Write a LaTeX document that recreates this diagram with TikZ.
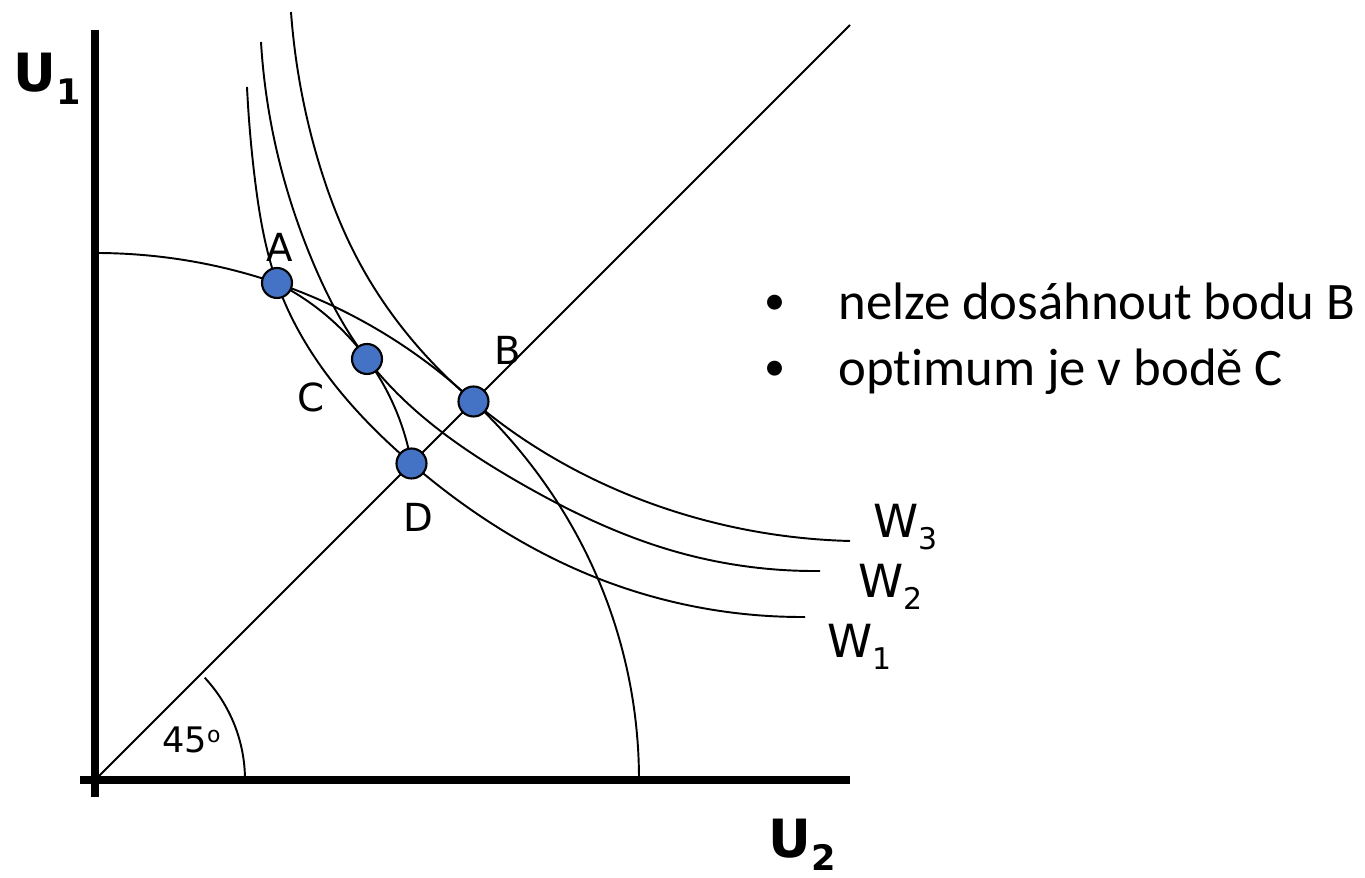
\documentclass[tikz,border=0pt]{standalone}
\usepackage{fontspec}
\setmainfont{DejaVu Sans}
\newfontfamily\notefont[Ligatures=NoCommon]{Carlito}
\usepackage{tkz-euclide}
\usetikzlibrary{hobby}
\definecolor{DotClr}{HTML}{4472C4}

\newcommand{\Wsub}[1]{\raisebox{-0.24cm}{\fontsize{17}{17}\selectfont #1}}
\newcommand{\Usub}[1]{\raisebox{-0.26cm}{\fontsize{20}{20}\selectfont #1}}

\begin{document}
\begin{tikzpicture}[
  curve/.style={line width=1.1pt,black},
  axis/.style={line width=4pt,black},
  dot/.style={circle,draw=black,line width=1.2pt,fill=DotClr,minimum size=0.6cm,inner sep=0pt},
  ptlabel/.style={inner sep=0pt,font=\fontsize{22}{26}\selectfont},
  wlabel/.style={inner sep=0pt,anchor=base west,font=\fontsize{26}{30}\selectfont},
  ulabel/.style={inner sep=0pt,anchor=base west,font=\fontsize{30}{34}\selectfont\bfseries},
  note/.style={inner sep=0pt,anchor=base west,font=\notefont\fontsize{30}{36}\selectfont},
  bullet/.style={inner sep=0pt,anchor=base west,font=\notefont\fontsize{24}{28}\selectfont}]
\useasboundingbox (-1.9,-1.96) rectangle (25.4,15.6);

\tkzDefPoints{0/0/O,3.64/9.94/A,7.57/7.57/B,5.44/8.42/C,6.33/6.33/D}

% axes
\draw[axis] (0,-0.34) -- (0,15);
\draw[axis] (-0.3,0) -- (15.1,0);
\node[ulabel] (u1) at (-1.64,13.76) {U\Usub{1}};
\node[ulabel] (u2) at (13.46,-1.56) {U\Usub{2}};

% 45 degree line
\draw[curve] (O) -- (15.1,15.1);
\draw[curve] (3,0) arc[start angle=0,end angle=43,radius=3];
\node[inner sep=0pt,anchor=base west,font=\fontsize{20}{24}\selectfont] (deg)
  at (1.34,0.54) {45\raisebox{0.2cm}{\fontsize{12.5}{14}\selectfont o}};

% frontiers
\draw[curve] (0,10.54) arc[start angle=90,end angle=0,x radius=10.88,y radius=10.54];
\draw[curve,use Hobby shortcut] (A) .. (C) .. (D);

% W curves
\draw[curve,use Hobby shortcut] (3.04,13.86) .. (3.2,12.0) .. (A) .. (D)
  .. (10.04,4.04) .. (14.2,3.26);
\draw[curve,use Hobby shortcut] (3.32,14.76) .. (3.6,12.74) .. (4.34,10.4) .. (C)
  .. (8.5,5.94) .. (11.5,4.6) .. (14.5,4.18);
\draw[curve,use Hobby shortcut] (3.92,15.36) .. (4.46,12.4) .. (5.26,10.4) .. (B)
  .. (11.5,5.4) .. (15.1,4.78);
\node[wlabel] (w3) at (15.56,4.84) {W\Wsub{3}};
\node[wlabel] (w2) at (15.26,3.64) {W\Wsub{2}};
\node[wlabel] (w1) at (14.64,2.44) {W\Wsub{1}};

% points
\foreach \p in {A,B,C,D}
  \node[dot] (dot\p) at (\p) {};
\node[ptlabel] (lA) at (3.7,10.66) {A};
\node[ptlabel] (lB) at (8.26,8.6) {B};
\node[ptlabel] (lC) at (4.32,7.66) {C};
\node[ptlabel] (lD) at (6.46,5.26) {D};

% notes
\node[bullet] (bul1) at (13.38,9.3) {•};
\node[note] (txt1) at (14.86,9.2) {nelze dosáhnout bodu B};
\node[bullet] (bul2) at (13.38,7.98) {•};
\node[note] (txt2) at (14.86,7.88) {optimum je v bodě C};
\end{tikzpicture}
\end{document}
